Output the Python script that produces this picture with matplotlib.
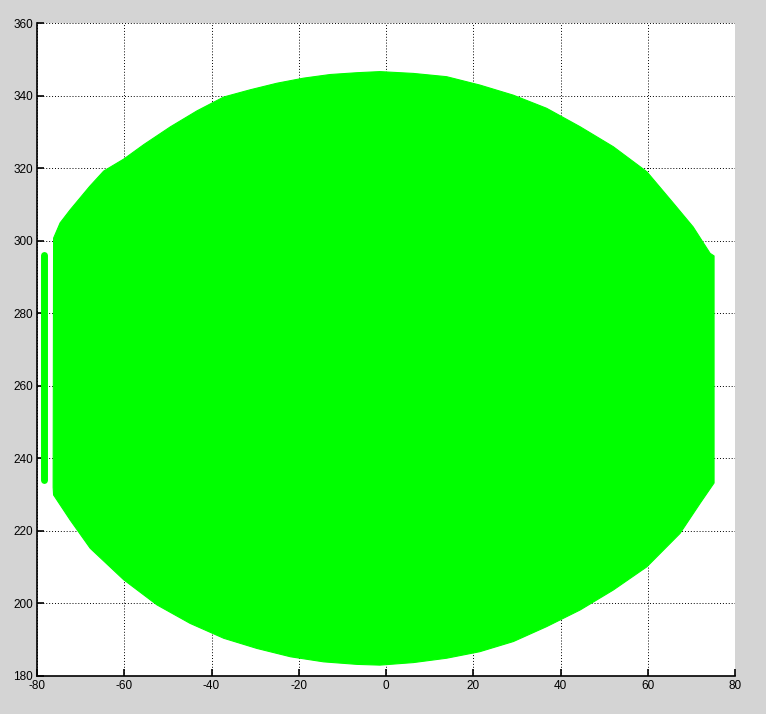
import numpy as np
import matplotlib
matplotlib.use('Agg')
import matplotlib.pyplot as plt

plt.rcParams['axes.unicode_minus'] = False

# batas atas blob hijau
x_atas = [-76.3, -76.2, -74.7, -72.4, -67.9, -64.7, -60.1, -55.5, -49.4, -43.3, -37.2,
          -31.1, -25.0, -18.9, -12.8, -6.6, -1.4, 6.3, 13.9, 21.5, 29.2, 36.8,
          44.5, 52.1, 59.8, 65.9, 70.4, 74.3, 75.2]
y_atas = [232.0, 300.7, 304.9, 308.5, 315.0, 319.2, 322.5, 326.5, 331.4, 335.8, 339.6,
          341.6, 343.4, 344.8, 345.8, 346.3, 346.6, 346.1, 345.2, 342.9, 340.1, 336.5,
          331.4, 325.9, 319.0, 310.3, 303.8, 296.5, 295.8]

# batas bawah (dari kanan ke kiri)
x_bawah = [75.2, 72.0, 67.4, 59.8, 52.1, 44.5, 36.8, 29.2, 21.5, 13.9, 6.3, -1.4,
           -6.6, -14.3, -21.9, -29.6, -37.2, -44.9, -52.5, -60.1, -67.8, -72.4, -76.2]
y_bawah = [233.2, 227.6, 219.3, 210.1, 203.7, 198.2, 193.6, 189.5, 186.7, 184.9, 183.7, 183.0,
           183.2, 183.9, 185.3, 187.6, 190.4, 194.5, 199.6, 206.5, 215.2, 223.0, 229.9]

# strip kecil di kiri
strip_x = -78.4
strip_y = [234.0, 296.0]

hijau = '#00ff00'

fig = plt.figure(figsize=(7.66, 7.14), dpi=100, facecolor='#d4d4d4')
ax = fig.add_axes([37/766, 1 - 676/714, 698/766, 653/714])
ax.set_facecolor('white')

ax.fill(x_atas + x_bawah, y_atas + y_bawah, color=hijau, lw=0.8, zorder=3)
ax.plot([strip_x, strip_x], strip_y, color=hijau, lw=5, solid_capstyle='round', zorder=3)

ax.set_xlim(-80, 80)
ax.set_ylim(180, 360)
ax.set_xticks(np.arange(-80, 81, 20))
ax.set_yticks(np.arange(180, 361, 20))

ax.set_axisbelow(True)
ax.grid(True, color='black', linestyle=(0, (1, 2)), lw=0.7)
for s in ['top', 'right']:
    ax.spines[s].set_visible(False)
for s in ['left', 'bottom']:
    ax.spines[s].set_linewidth(1.2)
ax.tick_params(direction='in', length=5, width=1.2, labelsize=8.5, pad=3)
for lbl in ax.get_xticklabels() + ax.get_yticklabels():
    lbl.set_fontfamily('Liberation Sans')

fig.savefig('out.png', dpi=100, facecolor=fig.get_facecolor())
